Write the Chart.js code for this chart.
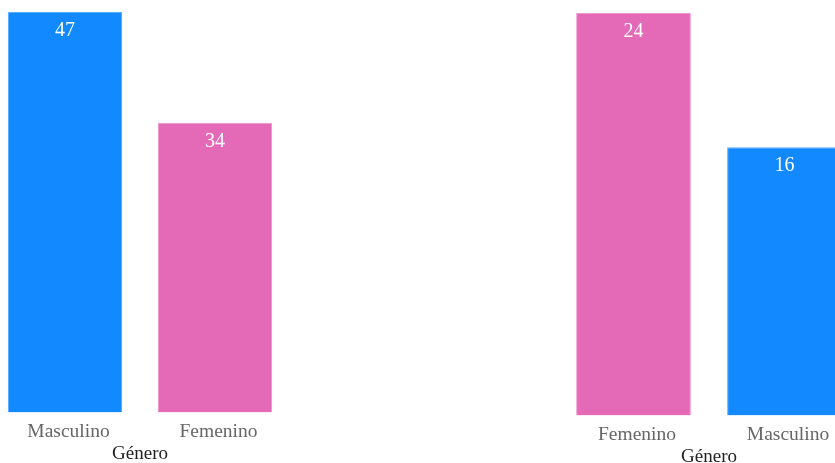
<!DOCTYPE html>
<html>
<head>
<meta charset="utf-8">
<script src="https://cdn.jsdelivr.net/npm/chart.js@4"></script>
<style>
  html, body { margin: 0; padding: 0; background: #fff; overflow: hidden; }
  body { width: 835px; height: 463px; position: relative; }
  .box { position: absolute; top: 0; height: 463px; }
  #boxLeft { left: -10px; width: 300px; }
  #boxRight { left: 558px; width: 302px; }
</style>
</head>
<body>
<div class="box" id="boxLeft"><canvas id="chartLeft"></canvas></div>
<div class="box" id="boxRight"><canvas id="chartRight"></canvas></div>
<script>
const leftLabels = ['Masculino', 'Femenino'];
const leftValues = [47, 34];
const rightLabels = ['Femenino', 'Masculino'];
const rightValues = [24, 16];
const axisTitle = 'Género';

const colorFor = {
  'Masculino': '#1289ff',
  'Femenino': '#e46ab8'
};
const borderFor = {
  'Masculino': '#5aaeff',
  'Femenino': '#ee98cf'
};

// write the count inside the top of each bar
const valueLabels = {
  id: 'valueLabels',
  afterDatasetsDraw(chart) {
    const ctx = chart.ctx;
    const ds = chart.data.datasets[0];
    chart.getDatasetMeta(0).data.forEach((bar, i) => {
      ctx.save();
      ctx.fillStyle = '#ffffff';
      ctx.font = '20px "Liberation Serif", "Times New Roman", serif';
      ctx.textAlign = 'center';
      ctx.textBaseline = 'middle';
      ctx.fillText(ds.data[i], bar.x, bar.y + 19);
      ctx.restore();
    });
  }
};

function makeChart(id, labels, values, padTop, padBottom) {
  return new Chart(document.getElementById(id), {
    type: 'bar',
    data: {
      labels: labels,
      datasets: [{
        data: values,
        backgroundColor: labels.map(l => colorFor[l]),
        borderColor: labels.map(l => borderFor[l]),
        borderWidth: 1,
        categoryPercentage: 1,
        barPercentage: 0.76
      }]
    },
    options: {
      responsive: true,
      maintainAspectRatio: false,
      animation: false,
      layout: { padding: { top: padTop, bottom: padBottom, left: 0, right: 0 } },
      plugins: {
        legend: { display: false },
        tooltip: { enabled: false }
      },
      scales: {
        x: {
          grid: { display: false, drawTicks: false },
          border: { display: false },
          ticks: {
            color: '#666666',
            padding: 10,
            labelOffset: 3.5,
            font: { family: '"Liberation Serif", "Times New Roman", serif', size: 19.5, lineHeight: 1 }
          },
          title: {
            display: true,
            text: axisTitle,
            color: '#222222',
            padding: { top: -7, bottom: 0 },
            font: { family: '"Liberation Serif", "Times New Roman", serif', size: 19, lineHeight: 1 }
          }
        },
        y: {
          display: false,
          min: 0,
          max: Math.max(...values)
        }
      }
    },
    plugins: [valueLabels]
  });
}

makeChart('chartLeft', leftLabels, leftValues, 12, -1);
makeChart('chartRight', rightLabels, rightValues, 13, -4);
</script>
</body>
</html>
